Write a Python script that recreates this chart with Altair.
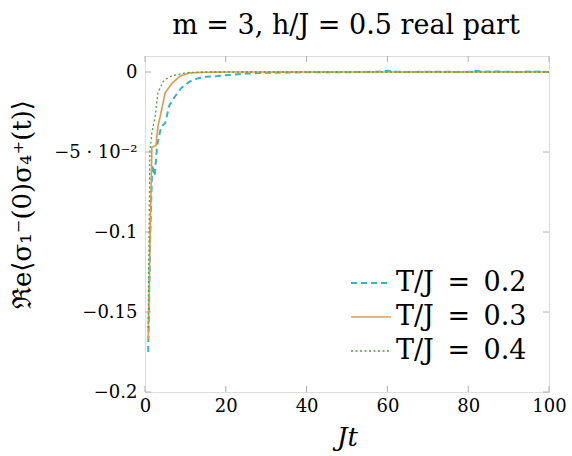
import altair as alt
import pandas as pd

# ---- data ----
t_02 = [0.8, 1.3, 1.8, 2.4, 3, 4, 5, 6, 7.5, 9, 11, 13, 15, 18, 21, 25, 30, 35, 40, 45,
        50, 55, 58, 60, 62, 65, 70, 75, 80, 82, 84, 88, 92, 96, 100]
v_02 = [-0.175, -0.10, -0.058, -0.065, -0.046, -0.034, -0.032, -0.021, -0.015, -0.010,
        -0.006, -0.004, -0.003, -0.0025, -0.0018, -0.001, -0.0005, -0.0003, -0.0002, -0.0002,
        -0.0001, 0.0, 0.0003, 0.0008, 0.0002, 0.0, 0.0002, 0.0001, 0.0, 0.0008,
        0.0002, 0.0003, 0.0, 0.0003, 0.0]
t_03 = [0.8, 1.7, 2.7, 3.2, 4, 5, 6.7, 8.7, 11, 14, 20, 30, 40, 50, 60, 70, 80, 90, 100]
v_03 = [-0.167, -0.047, -0.046, -0.034, -0.025, -0.013, -0.007, -0.0025, -0.0006, -0.0002,
        0, 0, 0, 0, 0, 0, 0, 0, 0]
t_04 = [0.8, 1.2, 1.7, 2.5, 3.2, 4.5, 6, 9, 11, 15, 20, 30, 40, 50, 60, 70, 80, 90, 100]
v_04 = [-0.16, -0.05, -0.038, -0.028, -0.013, -0.006, -0.003, -0.001, -0.0003, 0,
        0, 0, 0, 0, 0, 0, 0, 0, 0]

series = ["T/J\u2002=\u20020.2", "T/J\u2002=\u20020.3", "T/J\u2002=\u20020.4"]
colors = ["#3ab2c2", "#dd9c55", "#4da72c"]
x_ticks = [0, 20, 40, 60, 80, 100]
y_ticks = [-0.2, -0.15, -0.1, -0.05, 0]

rows = []
for name, ts, vs in zip(series, [t_02, t_03, t_04], [v_02, v_03, v_04]):
    for t, v in zip(ts, vs):
        rows.append({"t": t, "v": v, "series": name})
df = pd.DataFrame(rows)

W, H = 404, 336
FONT = "DejaVu Serif, serif"

xscale = alt.Scale(domain=[0, 100], nice=False)
yscale = alt.Scale(domain=[-0.2, 0.01], nice=False, zero=False)

lines = alt.Chart(df).mark_line(clip=True).encode(
    x=alt.X("t:Q", scale=xscale,
            axis=alt.Axis(values=x_ticks, title="Jt", tickSize=0, grid=False,
                          labelFontSize=18, labelPadding=5, labelFont=FONT, labelFlush=False,
                          titleFont=FONT, titleFontSize=26, titleFontStyle="italic",
                          titleFontWeight="normal", titlePadding=9, domain=False)),
    y=alt.Y("v:Q", scale=yscale,
            axis=alt.Axis(values=y_ticks, title="ℜe⟨σ₁⁻(0)σ₄⁺(t)⟩", tickSize=0, grid=False,
                          labelFontSize=18, labelPadding=8, labelFont=FONT, labelFlush=False,
                          labelExpr="datum.value == 0 ? '0' : datum.value == -0.05 ? '−5 · 10⁻²' : replace(format(datum.value, '.2~f'), '-', '− ')",
                          titleFont=FONT, titleFontSize=26, titleFontWeight="normal",
                          titleX=-110, titleY=H / 2 - 20, domain=False)),
    color=alt.Color("series:N", scale=alt.Scale(domain=series, range=colors),
                    legend=alt.Legend(title=None, orient="none", legendX=205, legendY=206,
                                      labelFont=FONT, labelFontSize=27, symbolType="stroke",
                                      symbolSize=1600, symbolStrokeWidth=2, rowPadding=0,
                                      labelOffset=4, fillColor="white", padding=0,
                                      labelLimit=300)),
    strokeDash=alt.StrokeDash("series:N",
                              scale=alt.Scale(domain=series, range=[[6, 4], [1, 0], [2, 2.5]]),
                              legend=None),
    strokeWidth=alt.StrokeWidth("series:N",
                                scale=alt.Scale(domain=series, range=[2, 1.3, 2.5]),
                                legend=None),
)

xt = pd.DataFrame({"x": x_ticks})
yt = pd.DataFrame({"y": y_ticks})
tick_color = "#b0b0b0"
xtop = alt.Chart(xt).mark_rule(color=tick_color, strokeWidth=1).encode(
    x=alt.X("x:Q", scale=xscale), y=alt.value(0), y2=alt.value(6))
xbot = alt.Chart(xt).mark_rule(color=tick_color, strokeWidth=1).encode(
    x=alt.X("x:Q", scale=xscale), y=alt.value(H - 6), y2=alt.value(H))
yleft = alt.Chart(yt).mark_rule(color=tick_color, strokeWidth=1).encode(
    y=alt.Y("y:Q", scale=yscale), x=alt.value(0), x2=alt.value(6))
yright = alt.Chart(yt).mark_rule(color=tick_color, strokeWidth=1).encode(
    y=alt.Y("y:Q", scale=yscale), x=alt.value(W - 6), x2=alt.value(W))

chart = alt.layer(xtop, xbot, yleft, yright, lines).properties(
    width=W, height=H,
    title=alt.TitleParams("m = 3, h/J = 0.5 real part", font=FONT, fontSize=27,
                          fontWeight="normal", anchor="middle", offset=16, dx=-1,
                          color="black"),
    autosize=alt.AutoSizeParams(type="none"),
    padding={"left": 145, "top": 56, "right": 23, "bottom": 64},
).configure_view(stroke="#222222", strokeWidth=1.2).configure_axis(
    labelColor="black", titleColor="black"
).configure(background="white")

chart.save("out.html", embed_options={"renderer": "svg", "actions": False})
